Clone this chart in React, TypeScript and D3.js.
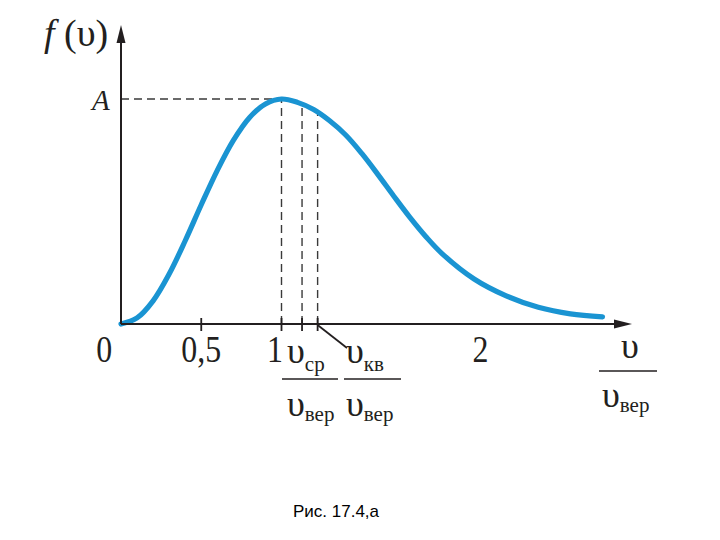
import React from "react";
import * as d3 from "d3";

// v / v_вер  (x) and f(v)/A (y)
const speedRatio = [0, 0.1, 0.2, 0.3, 0.4, 0.5, 0.6, 0.7, 0.8, 0.9, 1.0, 1.1, 1.2, 1.3, 1.4, 1.5, 1.6, 1.7, 1.8, 1.9, 2.0, 2.2, 2.4, 2.6, 2.8, 3.0];
const density = [0, 0.027, 0.103, 0.222, 0.37, 0.53, 0.683, 0.816, 0.917, 0.978, 1.0, 0.985, 0.953, 0.903, 0.84, 0.758, 0.665, 0.568, 0.474, 0.388, 0.313, 0.2, 0.125, 0.074, 0.045, 0.032];

// characteristic speeds: v_вер, v_ср, v_кв (ratios to v_вер)
const markerSpeeds = [1.0, 1.128, 1.225];
const tickValues = [0.5, 1.0, 1.128, 1.225];
const xTickLabelText = ["0", "0,5", "1", "2"];
const xTickLabelAt = [-0.105, 0.5, 0.96, 2.24];
const peakValue = 1.0;

const AXIS = "#231f20";
const CURVE = "#1a94d2";
const SERIF = "'Liberation Serif', 'Times New Roman', serif";

function interp(u: number): number {
  const i = d3.bisectRight(speedRatio, u) - 1;
  if (i < 0) return density[0];
  if (i >= speedRatio.length - 1) return density[density.length - 1];
  const t = (u - speedRatio[i]) / (speedRatio[i + 1] - speedRatio[i]);
  return density[i] + t * (density[i + 1] - density[i]);
}

export default function App() {
  const x = d3.scaleLinear().domain([0, 3]).range([121, 602.5]);
  const y = d3.scaleLinear().domain([0, 1]).range([324, 99]);

  const pts: [number, number][] = speedRatio.map((u, i) => [u, density[i]]);
  const line = d3
    .line<[number, number]>()
    .x((d) => x(d[0]))
    .y((d) => y(d[1]))
    .curve(d3.curveCatmullRom.alpha(0.5));

  const x0 = x(0);
  const y0 = y(0);
  const yTip = 25;
  const xTip = 632;

  const frac = (
    cx: number,
    numY: number,
    lineY: number,
    denY: number,
    numSub: string | null,
    lineX1: number,
    lineX2: number,
    key: string
  ) => (
    <g key={key}>
      <text x={cx} y={numY} fontFamily={SERIF} fontSize={36} fill={AXIS}>
        υ
        {numSub && (
          <tspan fontSize={21} dy={8}>
            {numSub}
          </tspan>
        )}
      </text>
      <line x1={lineX1} x2={lineX2} y1={lineY} y2={lineY} stroke={AXIS} strokeWidth={1.4} />
      <text x={cx} y={denY} fontFamily={SERIF} fontSize={36} fill={AXIS}>
        υ
        <tspan fontSize={21} dy={5}>
          вер
        </tspan>
      </text>
    </g>
  );

  return (
    <svg
      width={720}
      height={540}
      viewBox="0 0 720 540"
      style={{ position: "absolute", left: 0, top: 0, background: "#fff" }}
    >
      <rect x={0} y={0} width={720} height={540} fill="#fff" />

      {/* dashed guide lines */}
      <line
        x1={x0}
        x2={x(markerSpeeds[0])}
        y1={y(peakValue)}
        y2={y(peakValue)}
        stroke="#3a3a3a"
        strokeWidth={1.4}
        strokeDasharray="8,5"
      />
      {markerSpeeds.map((m, i) => (
        <line
          key={"m" + i}
          x1={x(m)}
          x2={x(m)}
          y1={y0}
          y2={y(interp(m))}
          stroke="#3a3a3a"
          strokeWidth={1.4}
          strokeDasharray="8,5"
        />
      ))}

      {/* curve */}
      <path d={line(pts) || ""} fill="none" stroke={CURVE} strokeWidth={5.2} strokeLinecap="round" />

      {/* axes */}
      <line x1={x0} x2={x0} y1={y0} y2={yTip + 10} stroke={AXIS} strokeWidth={2} />
      <path d={`M${x0},${yTip} L${x0 - 4.5},${yTip + 18} L${x0 + 4.5},${yTip + 18} Z`} fill={AXIS} />
      <line x1={x0} x2={xTip - 10} y1={y0} y2={y0} stroke={AXIS} strokeWidth={2} />
      <path d={`M${xTip},${y0} L${xTip - 18},${y0 - 4.5} L${xTip - 18},${y0 + 4.5} Z`} fill={AXIS} />

      {/* ticks */}
      {tickValues.map((t, i) => (
        <line key={"t" + i} x1={x(t)} x2={x(t)} y1={y0 - 6} y2={y0 + 7} stroke={AXIS} strokeWidth={1.8} />
      ))}

      {/* leader for v_кв */}
      <line x1={x(markerSpeeds[2])} y1={y0 + 1} x2={347} y2={348} stroke={AXIS} strokeWidth={1.8} />

      {/* tick labels */}
      {xTickLabelText.map((s, i) => (
        <text
          key={"l" + i}
          transform={`translate(${x(xTickLabelAt[i])},362) scale(0.84,1)`}
          textAnchor="middle"
          fontFamily={SERIF}
          fontSize={38}
          fill={AXIS}
        >
          {s}
        </text>
      ))}

      {/* y labels */}
      <text x={92} y={110} fontFamily={SERIF} fontSize={29} fontStyle="italic" fill={AXIS}>
        A
      </text>
      <text x={44} y={46} fontFamily={SERIF} fontSize={38} fill={AXIS}>
        <tspan fontStyle="italic">f</tspan> (υ)
      </text>

      {/* fractions */}
      {frac(287, 363, 379, 416, "ср", 282, 338, "f1")}
      {frac(346, 363, 379, 416, "кв", 344, 401, "f2")}
      <g>
        <text x={621} y={358} fontFamily={SERIF} fontSize={36} fill={AXIS}>
          υ
        </text>
        <line x1={599} x2={657} y1={371} y2={371} stroke={AXIS} strokeWidth={1.4} />
        <text x={602} y={407} fontFamily={SERIF} fontSize={36} fill={AXIS}>
          υ
          <tspan fontSize={21} dy={5}>
            вер
          </tspan>
        </text>
      </g>

      {/* caption */}
      <text x={293} y={517} fontFamily="'Liberation Sans', Arial, sans-serif" fontSize={17} fill="#000">
        Рис. 17.4,а
      </text>
    </svg>
  );
}
